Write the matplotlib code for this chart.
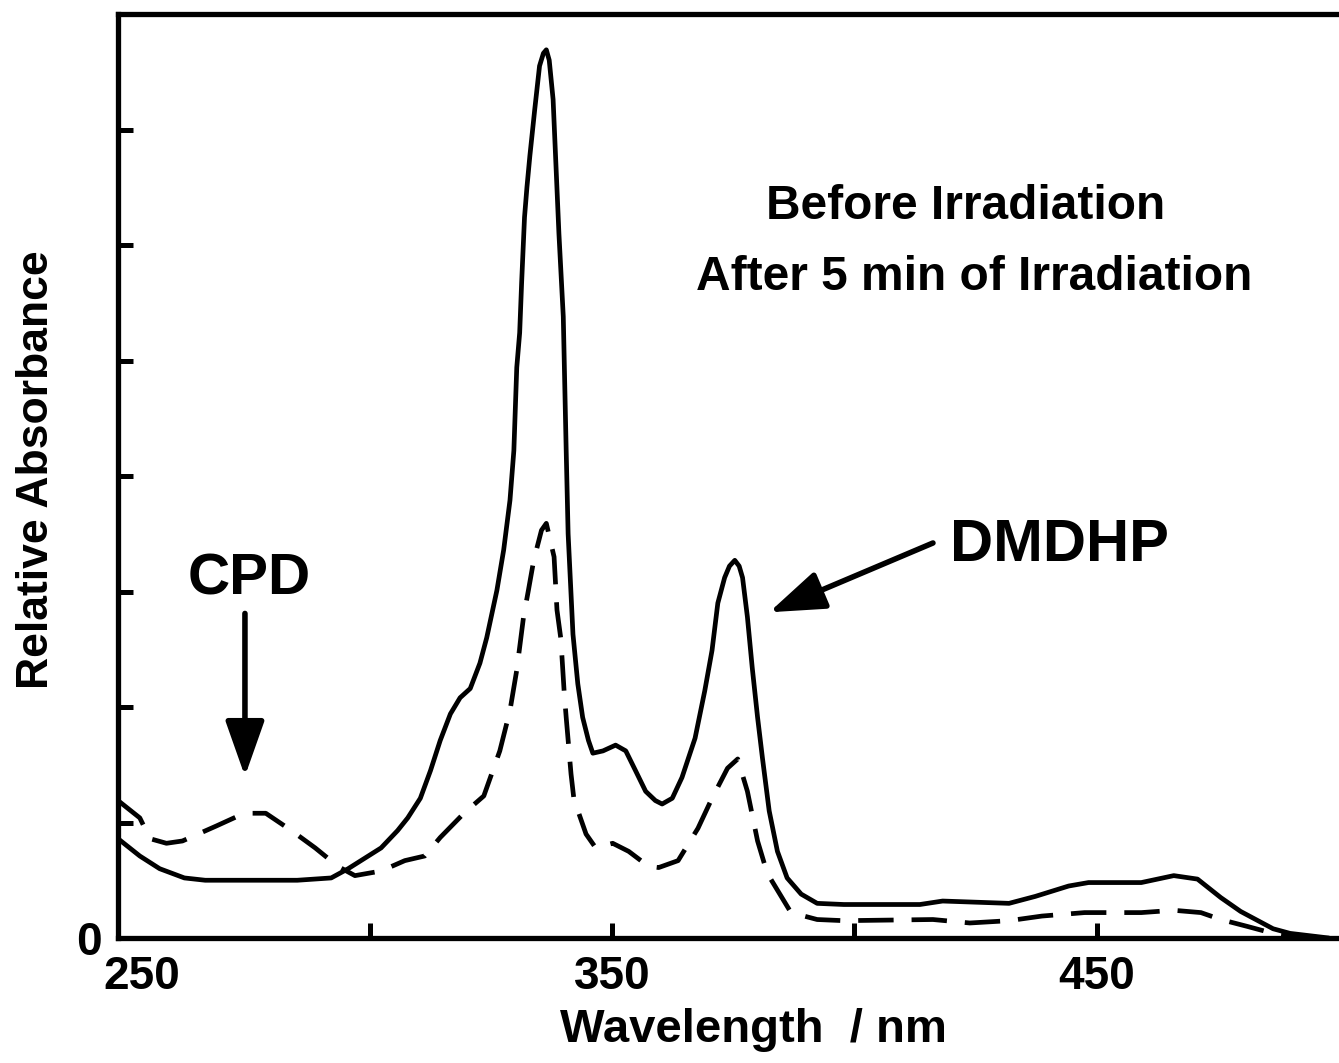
import matplotlib
matplotlib.use("Agg")
import matplotlib.pyplot as plt
import matplotlib.transforms as mtransforms

# ---- data ----
wl_before = [248.0, 252.5, 256.6, 261.7, 266.0, 275.0, 285.0, 292.0, 295.5, 302.3,
             305.7, 307.8, 310.4, 312.5, 314.5, 316.6, 318.6, 320.7, 322.7, 324.1,
             326.2, 327.6, 328.9, 329.7, 330.3, 330.9, 331.3, 331.9, 332.4, 333.0,
             334.0, 335.0, 335.8, 336.4, 337.0, 337.8, 339.0, 339.9, 340.2, 340.5,
             340.9, 341.9, 342.9, 343.9, 345.1, 346.0, 348.1, 350.7, 352.8, 354.8,
             356.9, 358.9, 360.3, 362.4, 364.4, 367.1, 369.1, 370.6, 371.8, 373.2,
             374.2, 375.3, 376.2, 376.9, 377.9, 378.9, 380.0, 381.0, 382.4, 384.1,
             386.1, 389.0, 392.3, 397.8, 413.5, 418.2, 431.9, 437.3, 444.2, 448.3,
             459.2, 465.9, 470.8, 475.6, 479.7, 486.4, 489.9, 497.9]
abs_before = [0.86, 0.71, 0.60, 0.52, 0.50, 0.50, 0.50, 0.52, 0.60, 0.78,
              0.93, 1.04, 1.21, 1.45, 1.71, 1.94, 2.08, 2.16, 2.38, 2.60,
              3.01, 3.36, 3.79, 4.22, 4.94, 5.24, 5.67, 6.24, 6.50, 6.77,
              7.17, 7.55, 7.66, 7.69, 7.60, 7.26, 6.10, 5.38, 4.80, 4.22,
              3.50, 2.63, 2.20, 1.91, 1.71, 1.60, 1.62, 1.67, 1.62, 1.45,
              1.27, 1.19, 1.16, 1.21, 1.39, 1.73, 2.14, 2.49, 2.90, 3.12,
              3.22, 3.27, 3.22, 3.12, 2.78, 2.34, 1.91, 1.56, 1.10, 0.75,
              0.52, 0.38, 0.30, 0.29, 0.29, 0.32, 0.30, 0.36, 0.45, 0.48,
              0.48, 0.54, 0.51, 0.35, 0.23, 0.08, 0.04, 0.00]

wl_after = [248.0, 252.5, 254.6, 258.0, 261.3, 268.3, 273.0, 275.6, 278.5, 283.8,
            288.7, 293.4, 296.9, 302.3, 307.2, 311.3, 314.5, 319.4, 323.5, 326.8,
            328.9, 330.3, 331.7, 332.7, 333.8, 335.4, 336.4, 338.0, 338.6, 339.4,
            340.1, 340.5, 341.5, 342.1, 344.6, 346.6, 350.1, 353.4, 357.5, 359.6,
            363.6, 367.7, 370.6, 373.8, 375.9, 377.9, 380.0, 382.0, 386.9, 392.3,
            397.8, 416.2, 423.8, 431.9, 438.7, 447.5, 459.2, 465.9, 471.5, 475.6,
            481.1, 486.4, 489.9, 497.9]
abs_after = [1.19, 1.04, 0.86, 0.82, 0.84, 0.97, 1.06, 1.08, 1.08, 0.93,
             0.78, 0.62, 0.54, 0.58, 0.67, 0.71, 0.87, 1.08, 1.23, 1.62,
             1.97, 2.32, 2.78, 3.01, 3.27, 3.53, 3.59, 3.30, 2.84, 2.59,
             2.12, 1.91, 1.42, 1.20, 0.90, 0.78, 0.82, 0.75, 0.62, 0.61,
             0.67, 0.95, 1.21, 1.47, 1.55, 1.27, 0.84, 0.56, 0.22, 0.16,
             0.15, 0.16, 0.13, 0.15, 0.19, 0.22, 0.22, 0.24, 0.22, 0.16,
             0.10, 0.04, 0.02, 0.00]

x_ticks = [250, 300, 350, 400, 450, 500]
x_tick_labels = ["250", "", "350", "", "450", ""]
y_ticks = [0, 1, 2, 3, 4, 5, 6, 7]
y_tick_labels = ["0", "", "", "", "", "", "", ""]

FONT = ["Liberation Sans", "DejaVu Sans"]
plt.rcParams["font.family"] = FONT
plt.rcParams["font.weight"] = "bold"

W, H = 1339, 1063
fig = plt.figure(figsize=(W / 100, H / 100), dpi=100)
ax = fig.add_axes([118 / W, (H - 938) / H, (W - 118) / W, (938 - 14) / H])

ax.plot(wl_before, abs_before, color="black", lw=3.4, solid_joinstyle="round",
        solid_capstyle="round")
ax.plot(wl_after, abs_after, color="black", lw=3.4, linestyle=(0, (7.5, 3.8)),
        dash_capstyle="butt", dash_joinstyle="round")

ax.set_xlim(248, 497.9)
ax.set_ylim(0, 8.0)

for s in ["left", "bottom", "top"]:
    ax.spines[s].set_linewidth(3.8)
ax.spines["right"].set_visible(False)

ax.set_xticks(x_ticks)
ax.set_xticklabels(x_tick_labels)
ax.set_yticks(y_ticks)
ax.set_yticklabels(y_tick_labels)
ax.tick_params(axis="both", direction="in", width=3.6, length=11,
               labelsize=33, colors="black")
ax.tick_params(axis="x", pad=12)
ax.tick_params(axis="y", pad=12)
for lab in ax.get_xticklabels() + ax.get_yticklabels():
    lab.set_fontweight("bold")
# no visible tick marks at 250 and 500 in the reference
xt = ax.xaxis.get_major_ticks()
xt[0].tick1line.set_visible(False)
xt[-1].tick1line.set_visible(False)
# the first x label sits a little right of its tick in the reference
first = ax.get_xticklabels()[0]
first.set_transform(first.get_transform() +
                    mtransforms.ScaledTranslation(14 / 100, 0, fig.dpi_scale_trans))

fig.text(37 / W, 1 - 470 / H, "Relative Absorbance", rotation=90, ha="center",
         va="center", fontsize=32, fontweight="bold")
fig.text(753 / W, 1 - 1030 / H, "Wavelength  / nm", ha="center", va="center",
         fontsize=34, fontweight="bold")

ax.text(423.0, 6.33, "Before Irradiation", ha="center", va="center",
        fontsize=34.5, fontweight="bold")
ax.text(424.8, 5.72, "After 5 min of Irradiation", ha="center", va="center",
        fontsize=34.5, fontweight="bold")
ax.text(275.0, 3.10, "CPD", ha="center", va="center", fontsize=42,
        fontweight="bold")
ax.text(442.2, 3.40, "DMDHP", ha="center", va="center", fontsize=43,
        fontweight="bold")

arrow_kw = dict(arrowstyle="-|>,head_length=3.4,head_width=1.2",
                mutation_scale=10, lw=4.0, color="black",
                shrinkA=0, shrinkB=0)
ax.annotate("", xy=(274.2, 1.40), xytext=(274.2, 2.81), arrowprops=arrow_kw)
ax.annotate("", xy=(382.4, 2.82), xytext=(416.2, 3.42), arrowprops=arrow_kw)

fig.savefig("out.png", dpi=100)
